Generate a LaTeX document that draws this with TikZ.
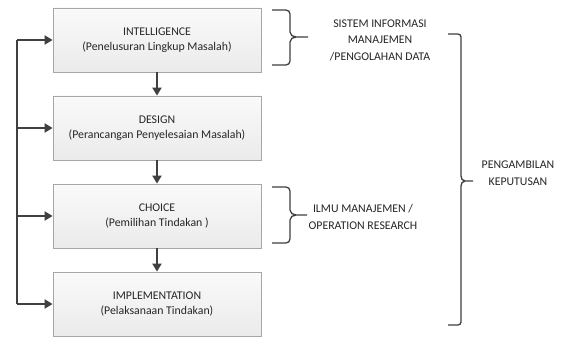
\documentclass[tikz,border=0pt]{standalone}
\usepackage{fontspec}
\setmainfont{Carlito}
\usetikzlibrary{arrows.meta,shadows}
\definecolor{ink}{HTML}{404040}
\definecolor{txt}{HTML}{262626}
\definecolor{edge}{HTML}{A6A6A6}
\tikzset{
  stage/.style={draw=edge, line width=0.8pt, top color=white!98!black, bottom color=white!92!black,
    minimum width=208pt, minimum height=64pt, inner sep=0pt, align=center, text=txt,
    font=\fontsize{11.8}{15}\selectfont,
    drop shadow={shadow xshift=1.2pt, shadow yshift=-1.2pt, fill=black!30, opacity=0.5}},
  flow/.style={draw=ink, line width=2pt, -{Triangle[length=8pt,width=9pt]}},
  spine/.style={draw=ink, line width=2pt},
  bracket/.style={draw=ink, line width=1.3pt},
  note/.style={align=center, text=txt, font=\fontsize{11.8}{16.5}\selectfont, inner sep=0pt}
}
\begin{document}
\begin{tikzpicture}[x=1pt,y=-1pt]
\useasboundingbox[fill=white] (0,0) rectangle (563,337);

% the four phases
\node[stage] (b1) at (157,40)  {INTELLIGENCE\\(Penelusuran Lingkup Masalah)};
\node[stage] (b2) at (157,128) {DESIGN\\(Perancangan Penyelesaian Masalah)};
\node[stage] (b3) at (157,216) {CHOICE\\(Pemilihan Tindakan )};
\node[stage] (b4) at (157,304) {IMPLEMENTATION\\(Pelaksanaan Tindakan)};

% forward flow
\draw[flow] (b1.south) -- (b2.north);
\draw[flow] (b2.south) -- (b3.north);
\draw[flow] (b3.south) -- (b4.north);

% feedback spine on the left
\coordinate (sTop) at (17,40);
\coordinate (sBot) at (17,304);
\draw[spine] (sTop) -- (sBot);
\draw[flow] (sTop) -- (b1.west);
\draw[flow] (b2.west -| sTop) -- (b2.west);
\draw[flow] (b3.west -| sTop) -- (b3.west);
\draw[flow] (sBot) -- (b4.west);

% bracket: information systems
\coordinate (t1) at (308,37);
\draw[bracket] (272,10) -- (286,10) to[out=0,in=90] (290,14) -- (290,32)
  to[out=-90,in=180] (296,37) -- (t1);
\draw[bracket] (272,65) -- (286,65) to[out=0,in=-90] (290,61) -- (290,42)
  to[out=90,in=180] (296,37);
\node[note] (n1) at (380,40) {SISTEM INFORMASI\\MANAJEMEN\\/PENGOLAHAN DATA};

% bracket: management science
\coordinate (t2) at (307,215);
\draw[bracket] (272,187) -- (286,187) to[out=0,in=90] (290,191) -- (290,210)
  to[out=-90,in=180] (296,215) -- (t2);
\draw[bracket] (272,243) -- (286,243) to[out=0,in=-90] (290,239) -- (290,220)
  to[out=90,in=180] (296,215);
\node[note] (n2) at (363,217) {ILMU MANAJEMEN /\\OPERATION RESEARCH};

% bracket: decision making
\coordinate (t3) at (473,181);
\draw[bracket] (448,34) -- (458,34) to[out=0,in=90] (461,37) -- (461,176)
  to[out=-90,in=180] (465,181) -- (t3);
\draw[bracket] (448,325) -- (458,325) to[out=0,in=-90] (461,322) -- (461,186)
  to[out=90,in=180] (465,181);
\node[note] (n3) at (518,173) {PENGAMBILAN\\KEPUTUSAN};
\end{tikzpicture}
\end{document}
